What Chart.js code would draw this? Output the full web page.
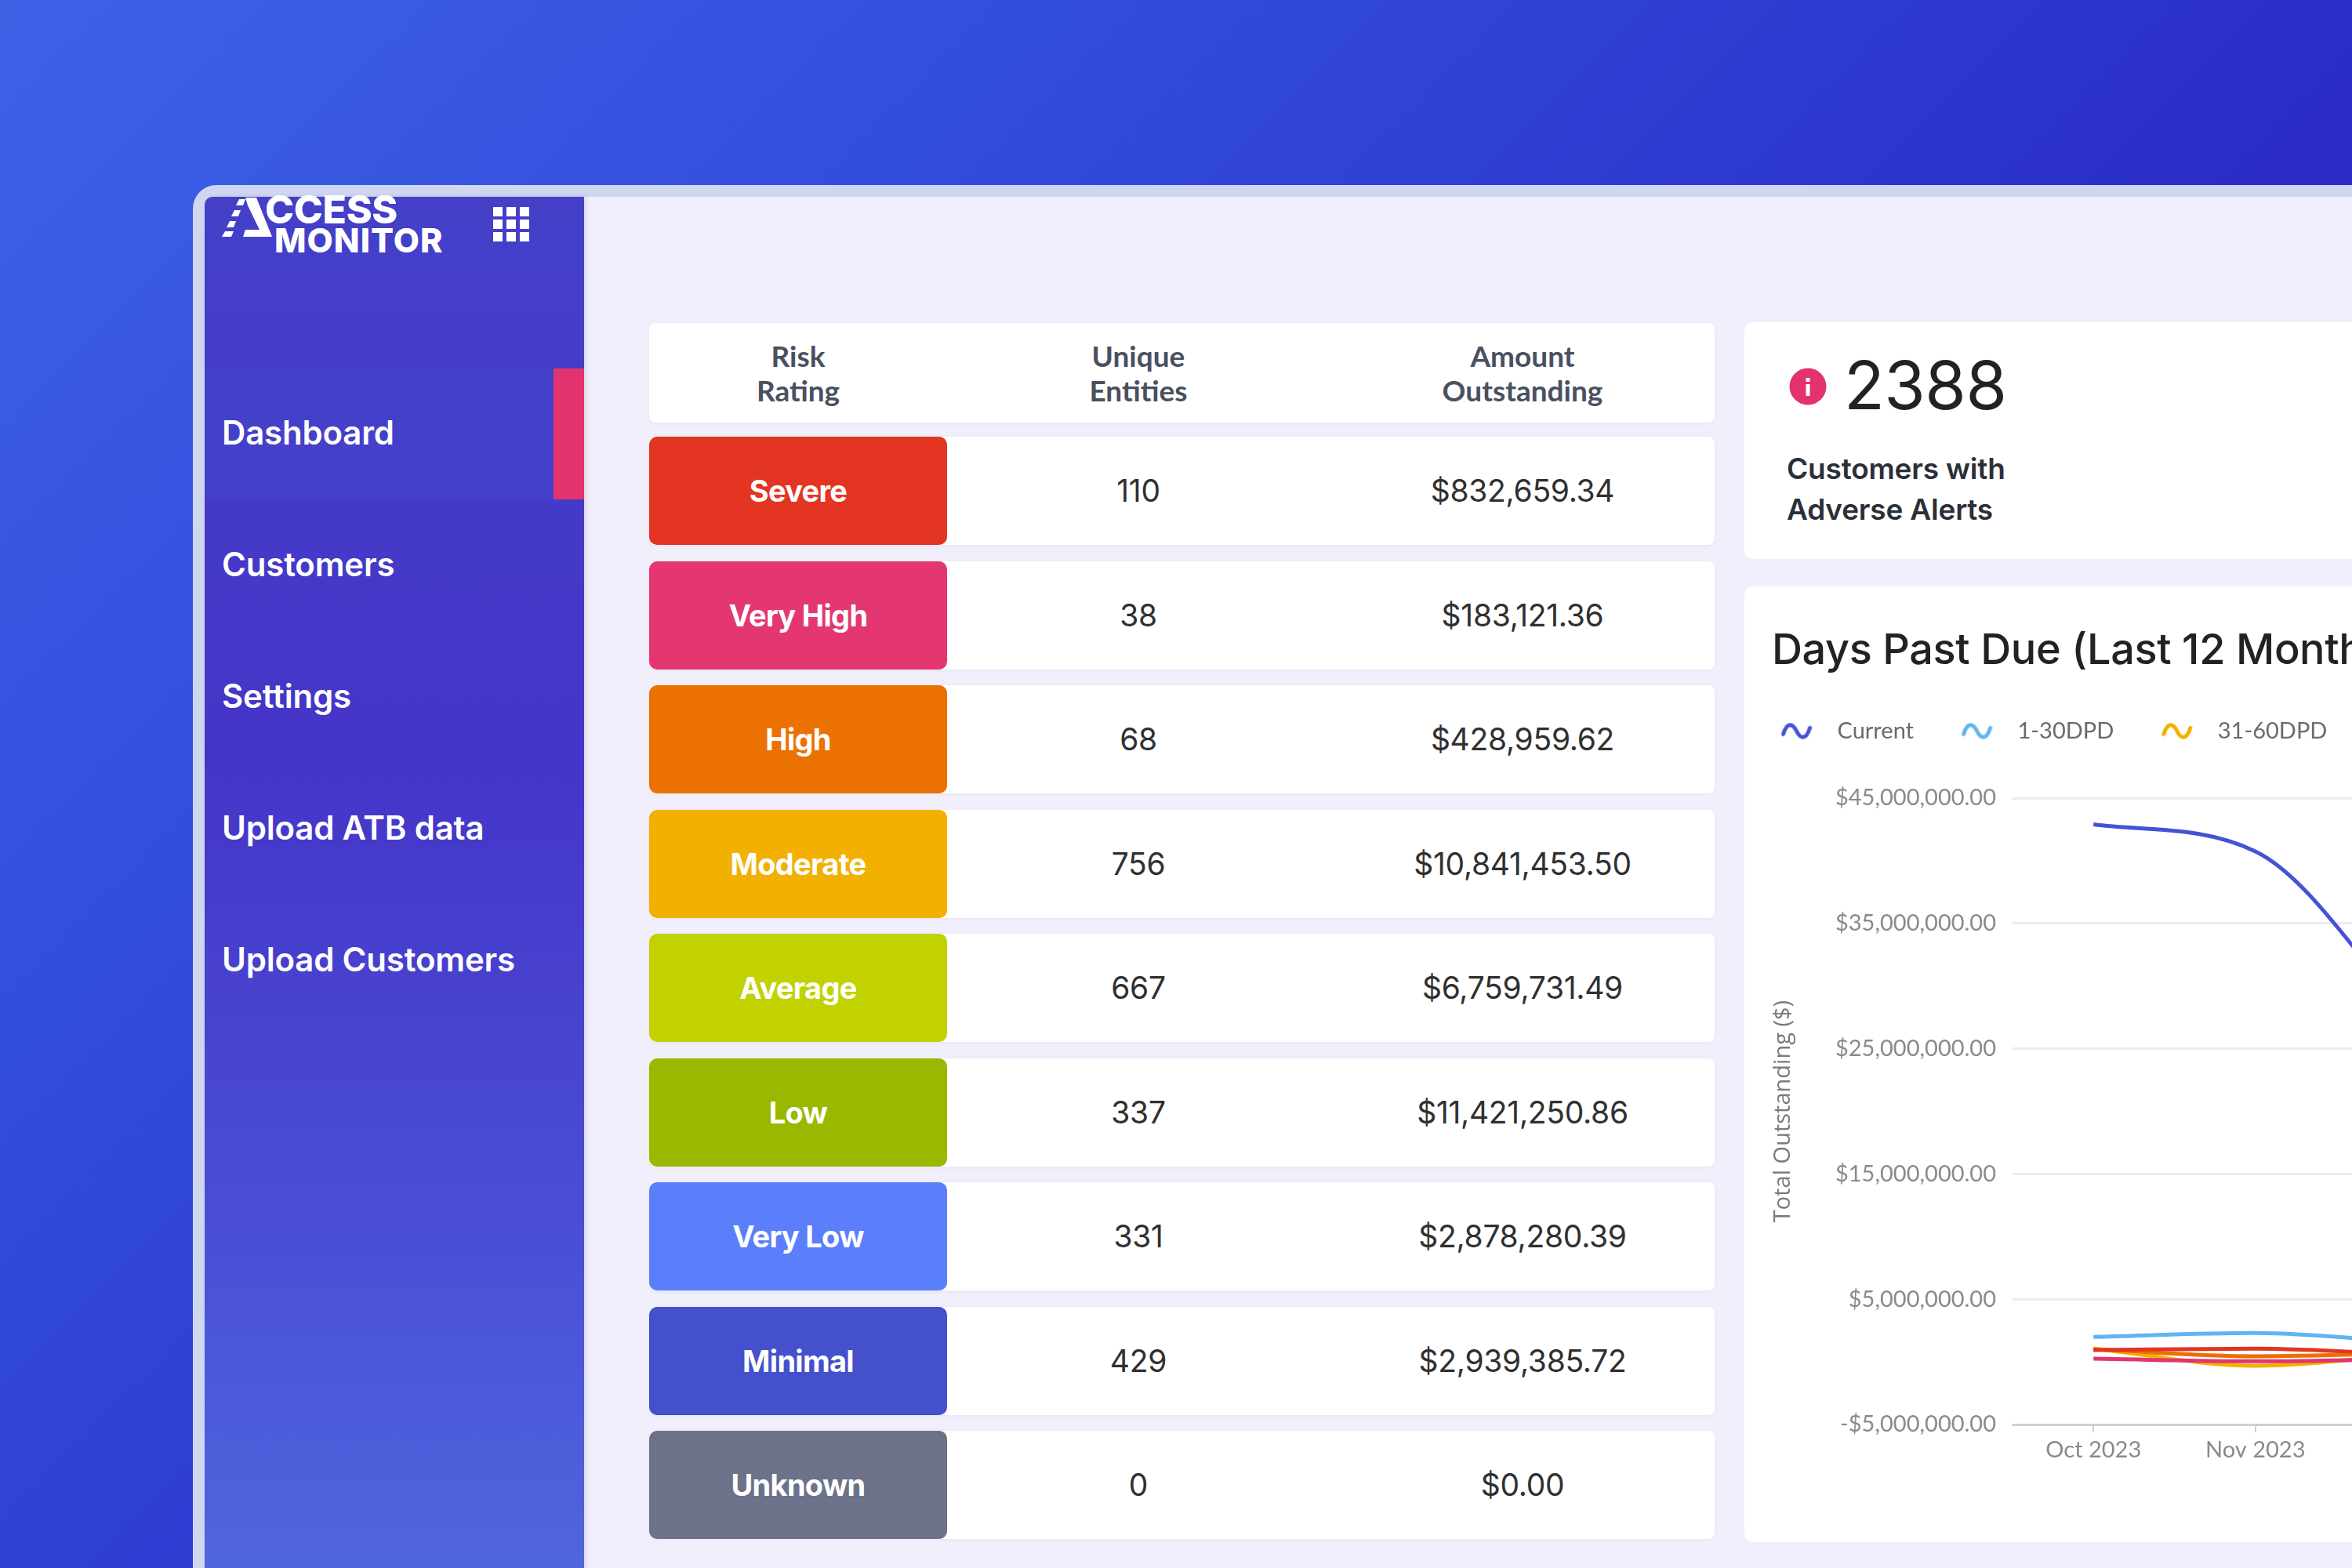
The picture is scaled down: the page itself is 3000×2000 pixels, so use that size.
<!DOCTYPE html>
<html>
<head>
<meta charset="utf-8">
<title>Access Monitor</title>
<script src="https://cdn.jsdelivr.net/npm/chart.js@4"></script>
<style>
  html, body { margin: 0; width: 3000px; height: 2000px; overflow: hidden; background: #2b2cc8; }
  #page { position: absolute; left: 0; top: 0; width: 3000px; height: 2000px; overflow: hidden; font-family: Inter, sans-serif; background: linear-gradient(135deg, #3d62e6 0%, #3149da 32%, #2b2cc8 62%, #2b2cc8 100%); filter: blur(.7px); }
  div, span { position: absolute; box-sizing: border-box; }
  #frame { left: 246px; top: 236px; width: 2900px; height: 1900px; background: #cfd6f0; border-radius: 30px; }
  #main { left: 261px; top: 251px; width: 2800px; height: 1800px; background: #f2effc; border-radius: 10px 0 0 0; overflow: hidden; }
  #side { left: 261px; top: 251px; width: 484px; height: 1800px; border-radius: 10px 0 0 0; overflow: hidden; background: linear-gradient(180deg, #4440c8 0%, #4535c8 40%, #4a50d6 75%, #5068de 100%); box-shadow: 3px 0 5px rgba(60,60,120,.12); }
  .menu { left: 283px; color: #fff; font-size: 42px; font-weight: 600; transform: translateY(-50%); white-space: nowrap; letter-spacing: -.2px; }
  #active { left: 261px; top: 470px; width: 484px; height: 167px; background: #4440c9; }
  #activeBar { left: 706px; top: 470px; width: 39px; height: 167px; background: #e2336f; }
  .logo { color: #fff; font-weight: 800; white-space: nowrap; }
  .dot { width: 12px; height: 12px; background: #fff; }
  .row { left: 828px; width: 1359px; background: #fff; border-radius: 8px; box-shadow: 0 1px 4px rgba(90,90,140,.08); }
  .cell { transform: translate(-50%, -50%); white-space: nowrap; text-align: center; }
  .rate { left: 0; top: 0; width: 380px; height: 100%; border-radius: 10px; color: #fff; font-size: 38px; font-weight: 700; display: flex; align-items: center; justify-content: center; letter-spacing: -.7px; }
  .head { font-family: Lato, sans-serif; font-size: 37px; line-height: 44px; font-weight: 700; color: #4a5060; }
  .val { font-size: 39px; color: #303030; letter-spacing: -.3px; }
  .card { background: #fff; border-radius: 10px; }
  #chartWrap { left: 2211px; top: 875px; }
  canvas { display: block; }
</style>
</head>
<body>
<div id="page">
<div id="frame"></div>
<div id="main"></div>
<div id="side"></div>
<div id="active"></div>
<div id="activeBar"></div>

<svg style="position:absolute;left:0;top:0" width="800" height="400">
  <polygon fill="#fff" points="313,252 327,252 347,302 310,302 313,293 331,293 316,262" />
  <polygon fill="#fff" points="305,254 313,254 310,262 301,262" />
  <polygon fill="#fff" points="299,268 307,268 304,276 295,276" />
  <polygon fill="#fff" points="293,282 301,282 298,290 289,290" />
  <polygon fill="#fff" points="287,295 298,295 295,302 283,302" />
</svg>
<div class="logo" style="left:338px;top:249px;font-size:50px;line-height:36px;letter-spacing:-.4px;">CCESS</div>
<div class="logo" style="left:350px;top:291px;font-size:43px;line-height:31px;letter-spacing:1px;">MONITOR</div>

<div id="grid"></div>
<div id="menu"></div>
<div id="table"></div>

<div class="card" style="left:2225px;top:411px;width:900px;height:302px;"></div>
<svg style="position:absolute;left:2282px;top:469px" width="48" height="48">
  <circle cx="24" cy="24" r="23.5" fill="#e2336f" />
  <rect x="21.5" y="21" width="5" height="15" fill="#fff" />
  <rect x="21.5" y="13" width="5" height="5" fill="#fff" />
</svg>
<div style="left:2352px;top:442px;font-size:85px;line-height:100px;color:#222;letter-spacing:-.5px;">2388</div>
<div style="left:2279px;top:572px;font-size:37px;line-height:52px;font-weight:600;color:#2b2f38;white-space:nowrap;letter-spacing:-.2px;">Customers with<br>Adverse Alerts</div>

<div class="card" style="left:2225px;top:748px;width:900px;height:1219px;"></div>
<div style="left:2260px;top:790px;font-size:54px;line-height:76px;font-weight:500;color:#222;white-space:nowrap;letter-spacing:-.4px;">Days Past Due (Last 12 Months)</div>
<div id="chartWrap"><canvas id="dpdChart" width="2834" height="1025"></canvas></div>
</div>

<script>
var menuItems = ['Dashboard', 'Customers', 'Settings', 'Upload ATB data', 'Upload Customers'];

var riskLabels = ['Severe', 'Very High', 'High', 'Moderate', 'Average', 'Low', 'Very Low', 'Minimal', 'Unknown'];
var riskEntities = ['110', '38', '68', '756', '667', '337', '331', '429', '0'];
var riskAmounts = ['$832,659.34', '$183,121.36', '$428,959.62', '$10,841,453.50', '$6,759,731.49', '$11,421,250.86', '$2,878,280.39', '$2,939,385.72', '$0.00'];
var riskColors = ['#e33522', '#e43771', '#eb7100', '#f2b000', '#c2d100', '#98b900', '#5b7ffa', '#4450cc', '#6b7289'];

var months = ['Oct 2023', 'Nov 2023', 'Dec 2023', 'Jan 2024', 'Feb 2024', 'Mar 2024', 'Apr 2024', 'May 2024', 'Jun 2024', 'Jul 2024', 'Aug 2024', 'Sep 2024'];
var seriesNames = ['Current', '1-30DPD', '31-60DPD', '61-90DPD', '91-120DPD', '121+DPD'];
var seriesColors = ['#4552d6', '#5fb5f0', '#f2b000', '#ec6f00', '#e2356f', '#e23620'];
var seriesDrawOrder = [0, 1, 5, 4, 3, 2];

// only the first months are inside the picture
var currentValues = [42900000, 40750000, 27000000];
var dpd1to30Values = [2000000, 2300000, 1500000];
var dpd31to60Values = [1050000, -300000, 700000];
var dpd61to90Values = [1000000, 450000, 700000];
var dpd91to120Values = [250000, 50000, 250000];
var dpd121Values = [950000, 1050000, 550000];
var seriesValues = [currentValues, dpd1to30Values, dpd31to60Values, dpd61to90Values, dpd91to120Values, dpd121Values];

var yTicksMin = -5000000;
var yTicksMax = 45000000;
var yTicksStep = 10000000;

function addEl(parent, className, text) {
  var el = document.createElement('div');
  el.className = className;
  if (text) {
    el.innerHTML = text;
  }
  parent.appendChild(el);
  return el;
}

// sidebar
var grid = document.getElementById('grid');
for (var r = 0; r < 3; r++) {
  for (var c = 0; c < 3; c++) {
    var dot = addEl(grid, 'dot');
    dot.style.left = (629 + c * 17) + 'px';
    dot.style.top = (264 + r * 16) + 'px';
  }
}

var menu = document.getElementById('menu');
for (var i = 0; i < menuItems.length; i++) {
  var item = addEl(menu, 'menu', menuItems[i]);
  item.style.top = (551 + i * 168) + 'px';
}

// risk table
var table = document.getElementById('table');
var header = addEl(table, 'row');
header.style.top = '412px';
header.style.height = '127px';
var headCols = [['Risk<br>Rating', 190], ['Unique<br>Entities', 624], ['Amount<br>Outstanding', 1114]];
for (var h = 0; h < headCols.length; h++) {
  var hc = addEl(header, 'cell head', headCols[h][0]);
  hc.style.left = headCols[h][1] + 'px';
  hc.style.top = '64px';
}

for (var j = 0; j < riskLabels.length; j++) {
  var row = addEl(table, 'row');
  row.style.top = (557 + j * 158.5) + 'px';
  row.style.height = '138px';
  var rate = addEl(row, 'rate', riskLabels[j]);
  rate.style.background = riskColors[j];
  var ent = addEl(row, 'cell val', riskEntities[j]);
  ent.style.left = '624px';
  ent.style.top = '68px';
  var amt = addEl(row, 'cell val', riskAmounts[j]);
  amt.style.left = '1114px';
  amt.style.top = '68px';
}

// wavy legend marker
function makeWave(color) {
  var cv = document.createElement('canvas');
  cv.width = 40;
  cv.height = 28;
  var ctx = cv.getContext('2d');
  ctx.strokeStyle = color;
  ctx.lineWidth = 5;
  ctx.lineCap = 'round';
  ctx.beginPath();
  ctx.moveTo(3, 18);
  ctx.bezierCurveTo(8, 2, 15, 4, 20, 14);
  ctx.bezierCurveTo(25, 24, 32, 26, 37, 10);
  ctx.stroke();
  return cv;
}

var datasets = [];
for (var s = 0; s < seriesNames.length; s++) {
  datasets.push({
    label: seriesNames[s],
    data: seriesValues[s],
    borderColor: seriesColors[s],
    backgroundColor: seriesColors[s],
    borderWidth: 5,
    pointRadius: 0,
    cubicInterpolationMode: 'monotone',
    pointStyle: makeWave(seriesColors[s]),
    order: seriesDrawOrder[s]
  });
}

var legendSpace = {
  id: 'legendSpace',
  beforeInit: function(chart) {
    var fit = chart.legend.fit;
    chart.legend.fit = function() {
      fit.bind(chart.legend)();
      this.height += 61;
    };
  }
};

var tickFont = { family: 'Lato', size: 29 };

new Chart(document.getElementById('dpdChart'), {
  type: 'line',
  data: { labels: months, datasets: datasets },
  plugins: [legendSpace],
  options: {
    responsive: false,
    animation: false,
    devicePixelRatio: 1,
    plugins: {
      tooltip: { enabled: false },
      legend: {
        position: 'top',
        align: 'start',
        labels: {
          usePointStyle: true,
          pointStyleWidth: 75,
          padding: 43,
          color: '#6b6b6b',
          font: tickFont,
          sort: function(a, b) { return a.datasetIndex - b.datasetIndex; }
        }
      }
    },
    scales: {
      x: {
        offset: true,
        afterFit: function(scale) { scale.height = 83; },
        grid: { drawOnChartArea: false, drawTicks: true, tickLength: 10, color: '#cfcfcf', lineWidth: 2 },
        border: { color: '#d0d0d0', width: 3 },
        ticks: { color: '#8a8a8a', font: tickFont, padding: 5, maxRotation: 0, autoSkip: false }
      },
      y: {
        min: yTicksMin,
        max: yTicksMax,
        afterFit: function(scale) { scale.width = 356; },
        grid: { color: '#ececf0', lineWidth: 3, drawTicks: false },
        border: { display: false },
        ticks: {
          stepSize: yTicksStep,
          color: '#8a8a8a',
          font: tickFont,
          padding: 21,
          callback: function(value) {
            var text = '$' + Math.abs(value).toLocaleString('en-US', { minimumFractionDigits: 2, maximumFractionDigits: 2 });
            return value < 0 ? '-' + text : text;
          }
        },
        title: {
          display: true,
          text: 'Total Outstanding ($)',
          color: '#7a7a7a',
          font: { family: 'Open Sans', size: 29 },
          padding: { top: 46, bottom: 0 }
        }
      }
    }
  }
});
</script>
</body>
</html>
